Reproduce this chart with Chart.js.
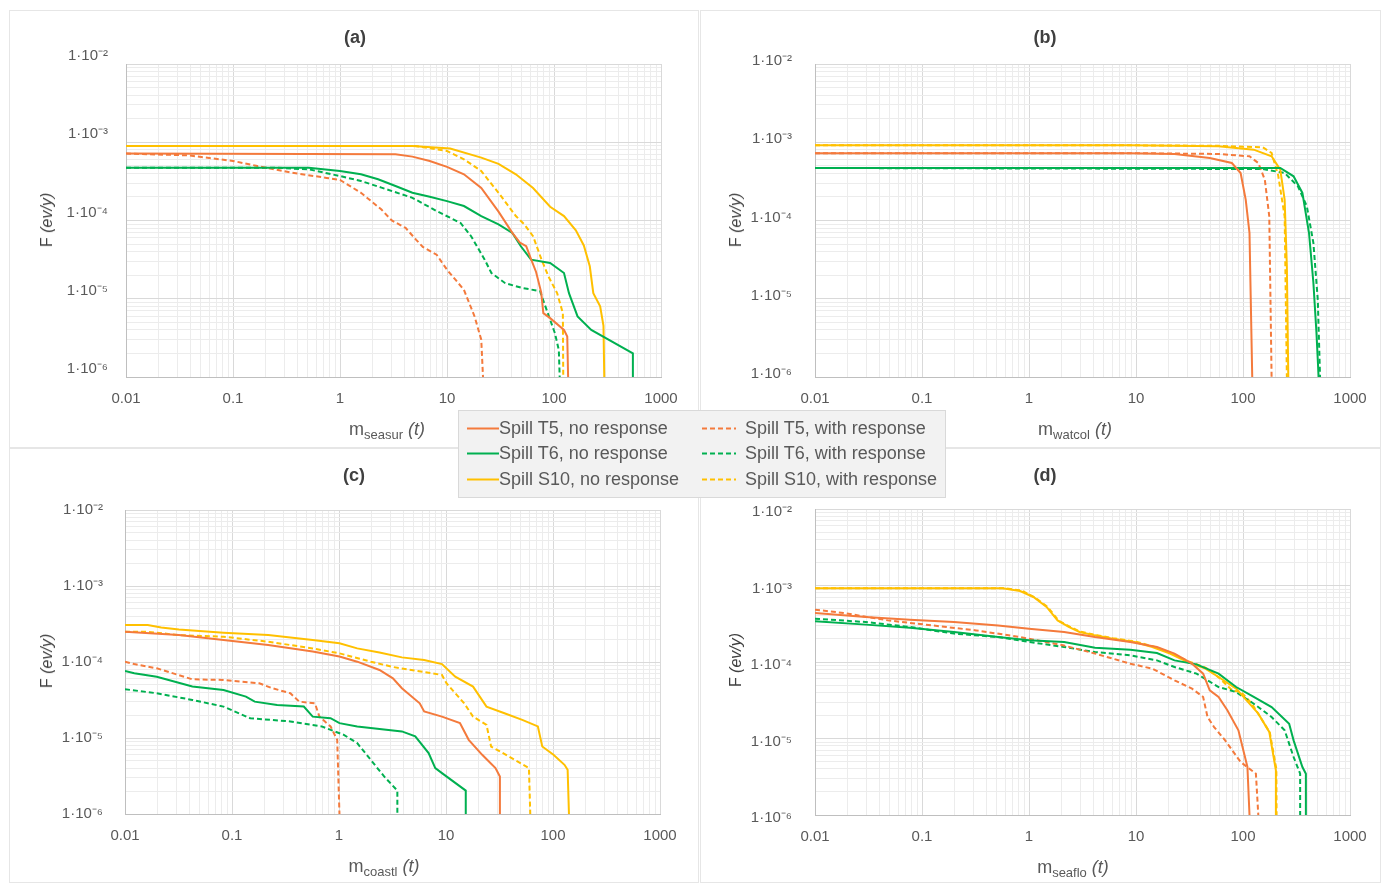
<!DOCTYPE html>
<html>
<head>
<meta charset="utf-8">
<script src="https://cdn.jsdelivr.net/npm/chart.js@4.4.1/dist/chart.umd.min.js"></script>
<style>
  body { margin: 0; background: #fff; font-family: "Liberation Sans", Arial, sans-serif; }
  #page { position: relative; width: 1381px; height: 883px; overflow: hidden; }
  .box { position: absolute; border: 1px solid #e6e6e6; box-sizing: border-box; }
  canvas { position: absolute; }
  .ttl { position: absolute; font-weight: bold; font-size: 18px; color: #404040; transform: translate(-50%, -50%); white-space: nowrap; }
  .xt { position: absolute; font-size: 18px; color: #595959; transform: translate(-50%, -50%); white-space: nowrap; }
  .xt sub { font-size: 13px; vertical-align: -4px; }
  .yt { position: absolute; font-size: 16px; color: #404040; transform: translate(-50%, -50%) rotate(-90deg); white-space: nowrap; }
  #legend { position: absolute; left: 458px; top: 410px; width: 488px; height: 88px; background: #f2f2f2; border: 1px solid #d9d9d9; box-sizing: border-box; }
  .lg { position: absolute; font-size: 18px; color: #595959; white-space: nowrap; transform: translateY(-50%); }
  .lg svg { vertical-align: middle; }
</style>
</head>
<body>
<div id="page"></div>
<script>
// ejes (escala log-log)
const xDecades = [0.01, 0.1, 1, 10, 100, 1000];
const xTickLabels = ['0.01', '0.1', '1', '10', '100', '1000'];
const yDecades = [1e-6, 1e-5, 1e-4, 1e-3, 1e-2];
const yTickLabels = ['1·10⁻⁶', '1·10⁻⁵', '1·10⁻⁴', '1·10⁻³', '1·10⁻²'];
const minorSteps = [1, 2, 3, 4, 5, 6, 7, 8, 9];

const seriesNames = ['Spill T5, no response', 'Spill T6, no response', 'Spill S10, no response',
                     'Spill T5, with response', 'Spill T6, with response', 'Spill S10, with response'];

// (a) m_seasur  [masa t, F ev/y]
const seasurT5No = [[0.01,7.16e-4],[3.3,7.0e-4],[4.75,6.55e-4],[6.9,5.77e-4],[10,4.85e-4],[14.4,3.89e-4],[20.9,2.6e-4],[30.3,1.3e-4],[40.8,6.95e-5],[48,5.2e-5],[55,4.69e-5],[61,3.2e-5],[68,2.2e-5],[76,1.2e-5],[79.5,6.55e-6],[92,5.65e-6],[124,4.0e-6],[133,3.29e-6],[135.5,1e-6]];
const seasurT6No = [[0.01,4.73e-4],[0.51,4.73e-4],[1,4.29e-4],[1.57,3.89e-4],[2.27,3.36e-4],[3.3,2.76e-4],[4.75,2.26e-4],[6.9,2.01e-4],[10,1.77e-4],[14.4,1.53e-4],[20.9,1.14e-4],[30.3,8.9e-5],[40.8,6.95e-5],[49,4.69e-5],[61,3.16e-5],[92,2.86e-5],[124,2.13e-5],[138,1.18e-5],[166,5.94e-6],[223,4.0e-6],[546,2.0e-6],[546,1e-6]];
const seasurS10No = [[0.01,8.98e-4],[4.75,8.98e-4],[10.7,8.3e-4],[20.9,6.36e-4],[30.3,5.3e-4],[44,3.89e-4],[63.7,2.6e-4],[92,1.5e-4],[124,1.14e-4],[160,7.5e-5],[190,4.8e-5],[216,2.6e-5],[233,1.18e-5],[270,8.0e-6],[290,4.5e-6],[295,1e-6]];
const seasurT5Resp = [[0.01,7.16e-4],[0.0386,6.8e-4],[0.1,5.77e-4],[0.169,4.97e-4],[0.356,4.08e-4],[0.75,3.5e-4],[1.0,3.3e-4],[1.57,2.26e-4],[2.44,1.38e-4],[3.05,1.0e-4],[4.1,8.05e-5],[5.13,5.7e-5],[5.94,4.6e-5],[8.0,3.66e-5],[10,2.35e-5],[14.4,1.3e-5],[18.1,5.94e-6],[20.9,3.0e-6],[21.7,1e-6]];
const seasurT6Resp = [[0.01,4.73e-4],[0.245,4.73e-4],[0.515,4.5e-4],[1,3.7e-4],[1.57,3.2e-4],[2.44,2.63e-4],[4.75,1.95e-4],[8,1.32e-4],[13.4,9.3e-5],[16.8,6.3e-5],[22.5,3.16e-5],[26,2.13e-5],[35,1.58e-5],[51,1.37e-5],[74,1.25e-5],[85,7.3e-6],[102,3.63e-6],[111,2.2e-6],[113,1e-6]];
const seasurS10Resp = [[0.01,8.98e-4],[5.1,8.98e-4],[10,7.74e-4],[14.4,6.05e-4],[20.9,4.29e-4],[30.3,2.26e-4],[44,1.14e-4],[52.9,8.9e-5],[63.7,6.3e-5],[76.5,3.16e-5],[88.7,1.93e-5],[107,1.18e-5],[121,6.55e-6],[122,1e-6]];

// (b) m_watcol
const watcolT5No = [[0.01,7.22e-4],[8.85,7.22e-4],[22.9,7.08e-4],[48.9,6.29e-4],[78.6,5.43e-4],[95,4.05e-4],[106,1.85e-4],[115,6.92e-5],[122,1e-6]];
const watcolT6No = [[0.01,4.69e-4],[223,4.69e-4],[297,3.67e-4],[359,2.25e-4],[414,6.92e-5],[455,1.59e-5],[486,3.65e-6],[509,1e-6]];
const watcolS10No = [[0.01,9.14e-4],[8.85,9.14e-4],[59,8.9e-4],[126,8.04e-4],[185,6.61e-4],[223,4.47e-4],[245,1.85e-4],[257,2.6e-5],[265,1e-6]];
const watcolT5Resp = [[0.01,7.22e-4],[14.2,7.22e-4],[59,7.08e-4],[115,6.61e-4],[139,5.43e-4],[160,3.32e-4],[176,1.13e-4],[185,1e-6]];
const watcolT6Resp = [[0.01,4.69e-4],[153,4.55e-4],[245,4.05e-4],[326,2.73e-4],[395,1.52e-4],[455,5.15e-5],[500,9.7e-6],[525,1e-6]];
const watcolS10Resp = [[0.01,9.14e-4],[8.85,9.14e-4],[59,9.0e-4],[153,8.61e-4],[185,7.29e-4],[213,3.8e-4],[245,1.13e-4],[257,1e-6]];

// (c) m_coastl
const coastlT5No = [[0.01,2.5e-4],[0.0319,2.26e-4],[0.0833,1.95e-4],[0.218,1.67e-4],[0.568,1.37e-4],[1.01,1.18e-4],[1.48,1.01e-4],[2.39,7.85e-5],[3.19,6.1e-5],[3.87,4.51e-5],[5.68,2.86e-5],[6.25,2.23e-5],[9.17,1.91e-5],[13.5,1.57e-5],[16.3,9.46e-6],[21.8,6.01e-6],[29,4.02e-6],[31.9,3.12e-6],[31.9,1e-6]];
const coastlT6No = [[0.01,7.62e-5],[0.0122,7.1e-5],[0.0198,6.41e-5],[0.0426,4.75e-5],[0.0833,4.29e-5],[0.135,3.51e-5],[0.163,3.01e-5],[0.264,2.72e-5],[0.469,2.59e-5],[0.568,1.91e-5],[0.834,1.82e-5],[1.01,1.57e-5],[1.48,1.42e-5],[3.87,1.22e-5],[5.16,1.05e-5],[6.88,6.32e-6],[7.94,4.02e-6],[9.17,3.45e-6],[15.3,2.03e-6],[15.3,1e-6]];
const coastlS10No = [[0.01,3.06e-4],[0.0163,3.06e-4],[0.0218,2.85e-4],[0.0319,2.68e-4],[0.0833,2.43e-4],[0.218,2.26e-4],[0.568,1.95e-4],[1.01,1.76e-4],[1.48,1.51e-4],[2.39,1.33e-4],[3.87,1.15e-4],[6.25,1.06e-4],[9.17,9.4e-5],[12.2,6.41e-5],[17.9,4.75e-5],[23.9,2.59e-5],[35.2,2.12e-5],[51.6,1.73e-5],[72.2,1.42e-5],[79.4,7.73e-6],[101,6.01e-6],[128,4.44e-6],[137,3.82e-6],[141,1e-6]];
const coastlT5Resp = [[0.01,1.01e-4],[0.0122,9.4e-5],[0.0198,8.26e-5],[0.0426,5.92e-5],[0.0833,5.8e-5],[0.18,5.25e-5],[0.239,4.51e-5],[0.351,3.88e-5],[0.426,3.01e-5],[0.596,2.86e-5],[0.656,1.91e-5],[0.834,1.42e-5],[0.962,9.46e-6],[1.01,1e-6]];
const coastlT6Resp = [[0.01,4.38e-5],[0.0198,3.88e-5],[0.0426,3.17e-5],[0.0833,2.59e-5],[0.148,1.82e-5],[0.351,1.65e-5],[0.688,1.42e-5],[1.11,1.1e-5],[1.48,8.56e-6],[1.98,5.17e-6],[2.64,3.12e-6],[3.51,2.03e-6],[3.51,1e-6]];
const coastlS10Resp = [[0.01,2.5e-4],[0.0163,2.5e-4],[0.0319,2.26e-4],[0.0833,2.15e-4],[0.218,1.85e-4],[0.568,1.51e-4],[1.01,1.3e-4],[1.98,1.01e-4],[3.19,8.6e-5],[9.17,6.75e-5],[10.1,5.25e-5],[14.8,2.86e-5],[17.9,1.91e-5],[23.9,1.49e-5],[26.4,7.73e-6],[38.7,5.72e-6],[59.6,4.02e-6],[61.3,1e-6]];

// (d) m_seaflo
const seafloT5No = [[0.01,4.37e-4],[0.0298,3.88e-4],[0.0769,3.57e-4],[0.199,3.33e-4],[0.514,3.01e-4],[1.0,2.73e-4],[2.13,2.47e-4],[4.14,2.12e-4],[8.85,1.83e-4],[15.7,1.57e-4],[22.9,1.29e-4],[33.4,9.51e-5],[42.4,7.04e-5],[48.9,4.26e-5],[59.1,3.49e-5],[71.4,2.34e-5],[90.6,1.28e-5],[110,4.24e-6],[115,1e-6]];
const seafloT6No = [[0.01,3.4e-4],[0.0298,3.08e-4],[0.0769,2.81e-4],[0.199,2.47e-4],[0.514,2.12e-4],[1.0,1.92e-4],[2.13,1.83e-4],[4.14,1.54e-4],[8.85,1.45e-4],[15.7,1.31e-4],[22.9,1.05e-4],[36.8,9.31e-5],[59.1,7.04e-5],[86.3,4.71e-5],[126,3.49e-5],[185,2.58e-5],[270,1.56e-5],[297,9.46e-6],[359,4.24e-6],[387,3.47e-6],[387,1e-6]];
const seafloS10No = [[0.01,9.18e-4],[0.565,9.18e-4],[0.826,8.47e-4],[1.1,7.08e-4],[1.46,5.24e-4],[1.85,3.5e-4],[2.35,2.87e-4],[2.97,2.47e-4],[4.14,2.23e-4],[6.05,2.02e-4],[9.73,1.83e-4],[14.2,1.57e-4],[20.8,1.29e-4],[30.4,1.0e-4],[44.5,8.18e-5],[59.1,6.37e-5],[86.3,4.48e-5],[115,2.85e-5],[139,2.11e-5],[176,1.22e-5],[203,3.84e-6],[203,1e-6]];
const seafloT5Resp = [[0.01,4.83e-4],[0.0185,4.37e-4],[0.0479,3.5e-4],[0.124,3.01e-4],[0.32,2.59e-4],[0.826,2.12e-4],[2.13,1.64e-4],[4.14,1.29e-4],[8.85,9.51e-5],[14.2,8.18e-5],[22.9,5.76e-5],[33.4,4.48e-5],[42.4,3.49e-5],[46.6,1.91e-5],[53.7,1.41e-5],[68.1,9.46e-6],[95,4.93e-6],[132,3.47e-6],[139,1e-6]];
const seafloT6Resp = [[0.01,3.68e-4],[0.0298,3.33e-4],[0.0769,2.87e-4],[0.199,2.35e-4],[0.514,2.12e-4],[1.0,1.83e-4],[2.13,1.57e-4],[4.14,1.35e-4],[8.85,1.22e-4],[15.7,1.05e-4],[22.9,8.6e-5],[36.8,7.04e-5],[59.1,4.71e-5],[86.3,4.05e-5],[126,2.85e-5],[185,1.91e-5],[245,1.28e-5],[297,5.73e-6],[342,3.47e-6],[342,1e-6]];
const seafloS10Resp = [[0.01,9.18e-4],[0.6,9.18e-4],[0.85,8.6e-4],[1.15,6.9e-4],[1.5,5.2e-4],[1.9,3.45e-4],[2.4,2.9e-4],[3.0,2.5e-4],[4.2,2.25e-4],[6.1,2.05e-4],[9.8,1.85e-4],[14.5,1.6e-4],[21,1.32e-4],[31,1.02e-4],[45,8.4e-5],[60,6.2e-5],[80,4.2e-5],[95,4.1e-5],[120,2.9e-5],[142,2.0e-5],[178,1.2e-5],[205,4.0e-6],[206,1e-6]];

const colors = ['#F47A3C', '#00B050', '#FFC000'];

const page = document.getElementById('page');

function el(tag, cls, css, html) {
    const e = document.createElement(tag);
    if (cls) e.className = cls;
    Object.assign(e.style, css);
    if (html) e.innerHTML = html;
    page.appendChild(e);
    return e;
}

function logTicks(decades) {
    const ticks = [];
    decades.forEach(function(d, i) {
        if (i == decades.length - 1) {
            ticks.push({ value: d });
            return;
        }
        minorSteps.forEach(m => ticks.push({ value: +(m * d).toPrecision(3) }));
    });
    return ticks;
}

function isDecade(v, decades) {
    return decades.findIndex(d => Math.abs(v - d) / d < 1e-6);
}

// box: [left, top, right, bottom] del panel ; plot: [left, top, right, bottom] del area
function makePanel(box, plot, series, letter, xSub, titlePos, xTitlePos, yTitlePos, yPad, yOff) {
    el('div', 'box', { left: box[0] + 'px', top: box[1] + 'px', width: (box[2] - box[0]) + 'px', height: (box[3] - box[1]) + 'px' });

    const W = box[2] - box[0], H = box[3] - box[1];
    const cv = el('canvas', null, { left: box[0] + 'px', top: box[1] + 'px' });
    cv.width = W;
    cv.height = H;
    const xAxisH = 40;

    const datasets = series.map(function(s, i) {
        return {
            label: seriesNames[i],
            data: s.map(p => ({ x: p[0], y: p[1] })),
            borderColor: colors[i % 3],
            backgroundColor: colors[i % 3],
            borderWidth: 2,
            borderDash: i >= 3 ? [5, 3] : [],
            pointRadius: 0,
            tension: 0,
            fill: false,
        };
    });

    new Chart(cv, {
        type: 'line',
        data: { datasets: datasets },
        options: {
            responsive: false,
            animation: false,
            events: [],
            layout: { padding: { left: 0, top: plot[1] - box[1], right: box[2] - plot[2], bottom: box[3] - plot[3] - xAxisH } },
            plugins: { legend: { display: false }, tooltip: { enabled: false } },
            scales: {
                x: {
                    type: 'logarithmic', min: 0.01, max: 1000,
                    afterBuildTicks: (sc) => { sc.ticks = logTicks(xDecades); },
                    afterFit: (sc) => { sc.height = xAxisH; },
                    ticks: {
                        autoSkip: false, maxRotation: 0, padding: 13, color: '#595959',
                        font: { family: 'Liberation Sans', size: 15 },
                        callback: (v) => { const k = isDecade(v, xDecades); return k >= 0 ? xTickLabels[k] : ''; },
                    },
                    grid: { drawTicks: false, color: (c) => isDecade(c.tick.value, xDecades) >= 0 ? '#d9d9d9' : '#ececec' },
                    border: { color: '#bfbfbf' },
                },
                y: {
                    type: 'logarithmic', min: 1e-6, max: 1e-2,
                    afterBuildTicks: (sc) => { sc.ticks = logTicks(yDecades); },
                    afterFit: (sc) => { sc.width = plot[0] - box[0]; },
                    ticks: {
                        autoSkip: false, padding: yPad, labelOffset: yOff, color: '#595959',
                        font: { family: 'Liberation Sans', size: 15 },
                        callback: (v) => { const k = isDecade(v, yDecades); return k >= 0 ? yTickLabels[k] : ''; },
                    },
                    grid: { drawTicks: false, color: (c) => isDecade(c.tick.value, yDecades) >= 0 ? '#d9d9d9' : '#ececec' },
                    border: { color: '#bfbfbf' },
                },
            },
        },
    });

    el('div', 'ttl', { left: titlePos[0] + 'px', top: titlePos[1] + 'px' }, '(' + letter + ')');
    el('div', 'xt', { left: xTitlePos[0] + 'px', top: xTitlePos[1] + 'px' }, 'm<sub>' + xSub + '</sub> <i>(t)</i>');
    el('div', 'yt', { left: yTitlePos[0] + 'px', top: yTitlePos[1] + 'px' }, 'F <i>(ev/y)</i>');
}

makePanel([9, 10, 699, 448], [126, 64, 661, 377],
    [seasurT5No, seasurT6No, seasurS10No, seasurT5Resp, seasurT6Resp, seasurS10Resp],
    'a', 'seasur', [355, 37], [387, 430], [47, 220], 18, -8);
makePanel([700, 10, 1381, 448], [815, 64, 1350, 377],
    [watcolT5No, watcolT6No, watcolS10No, watcolT5Resp, watcolT6Resp, watcolS10Resp],
    'b', 'watcol', [1045, 37], [1075, 430], [736, 220], 23, -3);
makePanel([9, 448, 699, 883], [125, 510, 660, 814],
    [coastlT5No, coastlT6No, coastlS10No, coastlT5Resp, coastlT6Resp, coastlS10Resp],
    'c', 'coastl', [354, 475], [384, 867], [47, 661], 22, 0);
makePanel([700, 448, 1381, 883], [815, 509, 1350, 815],
    [seafloT5No, seafloT6No, seafloS10No, seafloT5Resp, seafloT6Resp, seafloS10Resp],
    'd', 'seaflo', [1045, 475], [1073, 868], [736, 660], 23, 3);

// leyenda comun (sobre los cuatro paneles)
el('div', null, {}, '').id = 'legend';
const legendRows = [428, 453, 479];
seriesNames.forEach(function(name, i) {
    const col = i < 3 ? 0 : 1;
    const left = col == 0 ? 467 : 702;
    const dash = col == 1 ? 'stroke-dasharray="5 3"' : '';
    const svgW = col == 0 ? 32 : 34;
    const gap = col == 0 ? 0 : 9;
    el('div', 'lg', { left: left + 'px', top: legendRows[i % 3] + 'px' },
        '<svg width="' + svgW + '" height="4"><line x1="0" y1="2" x2="' + svgW + '" y2="2" stroke="' + colors[i % 3] + '" stroke-width="2" ' + dash + '/></svg>' +
        '<span style="margin-left:' + gap + 'px">' + name + '</span>');
});
</script>
</body>
</html>
